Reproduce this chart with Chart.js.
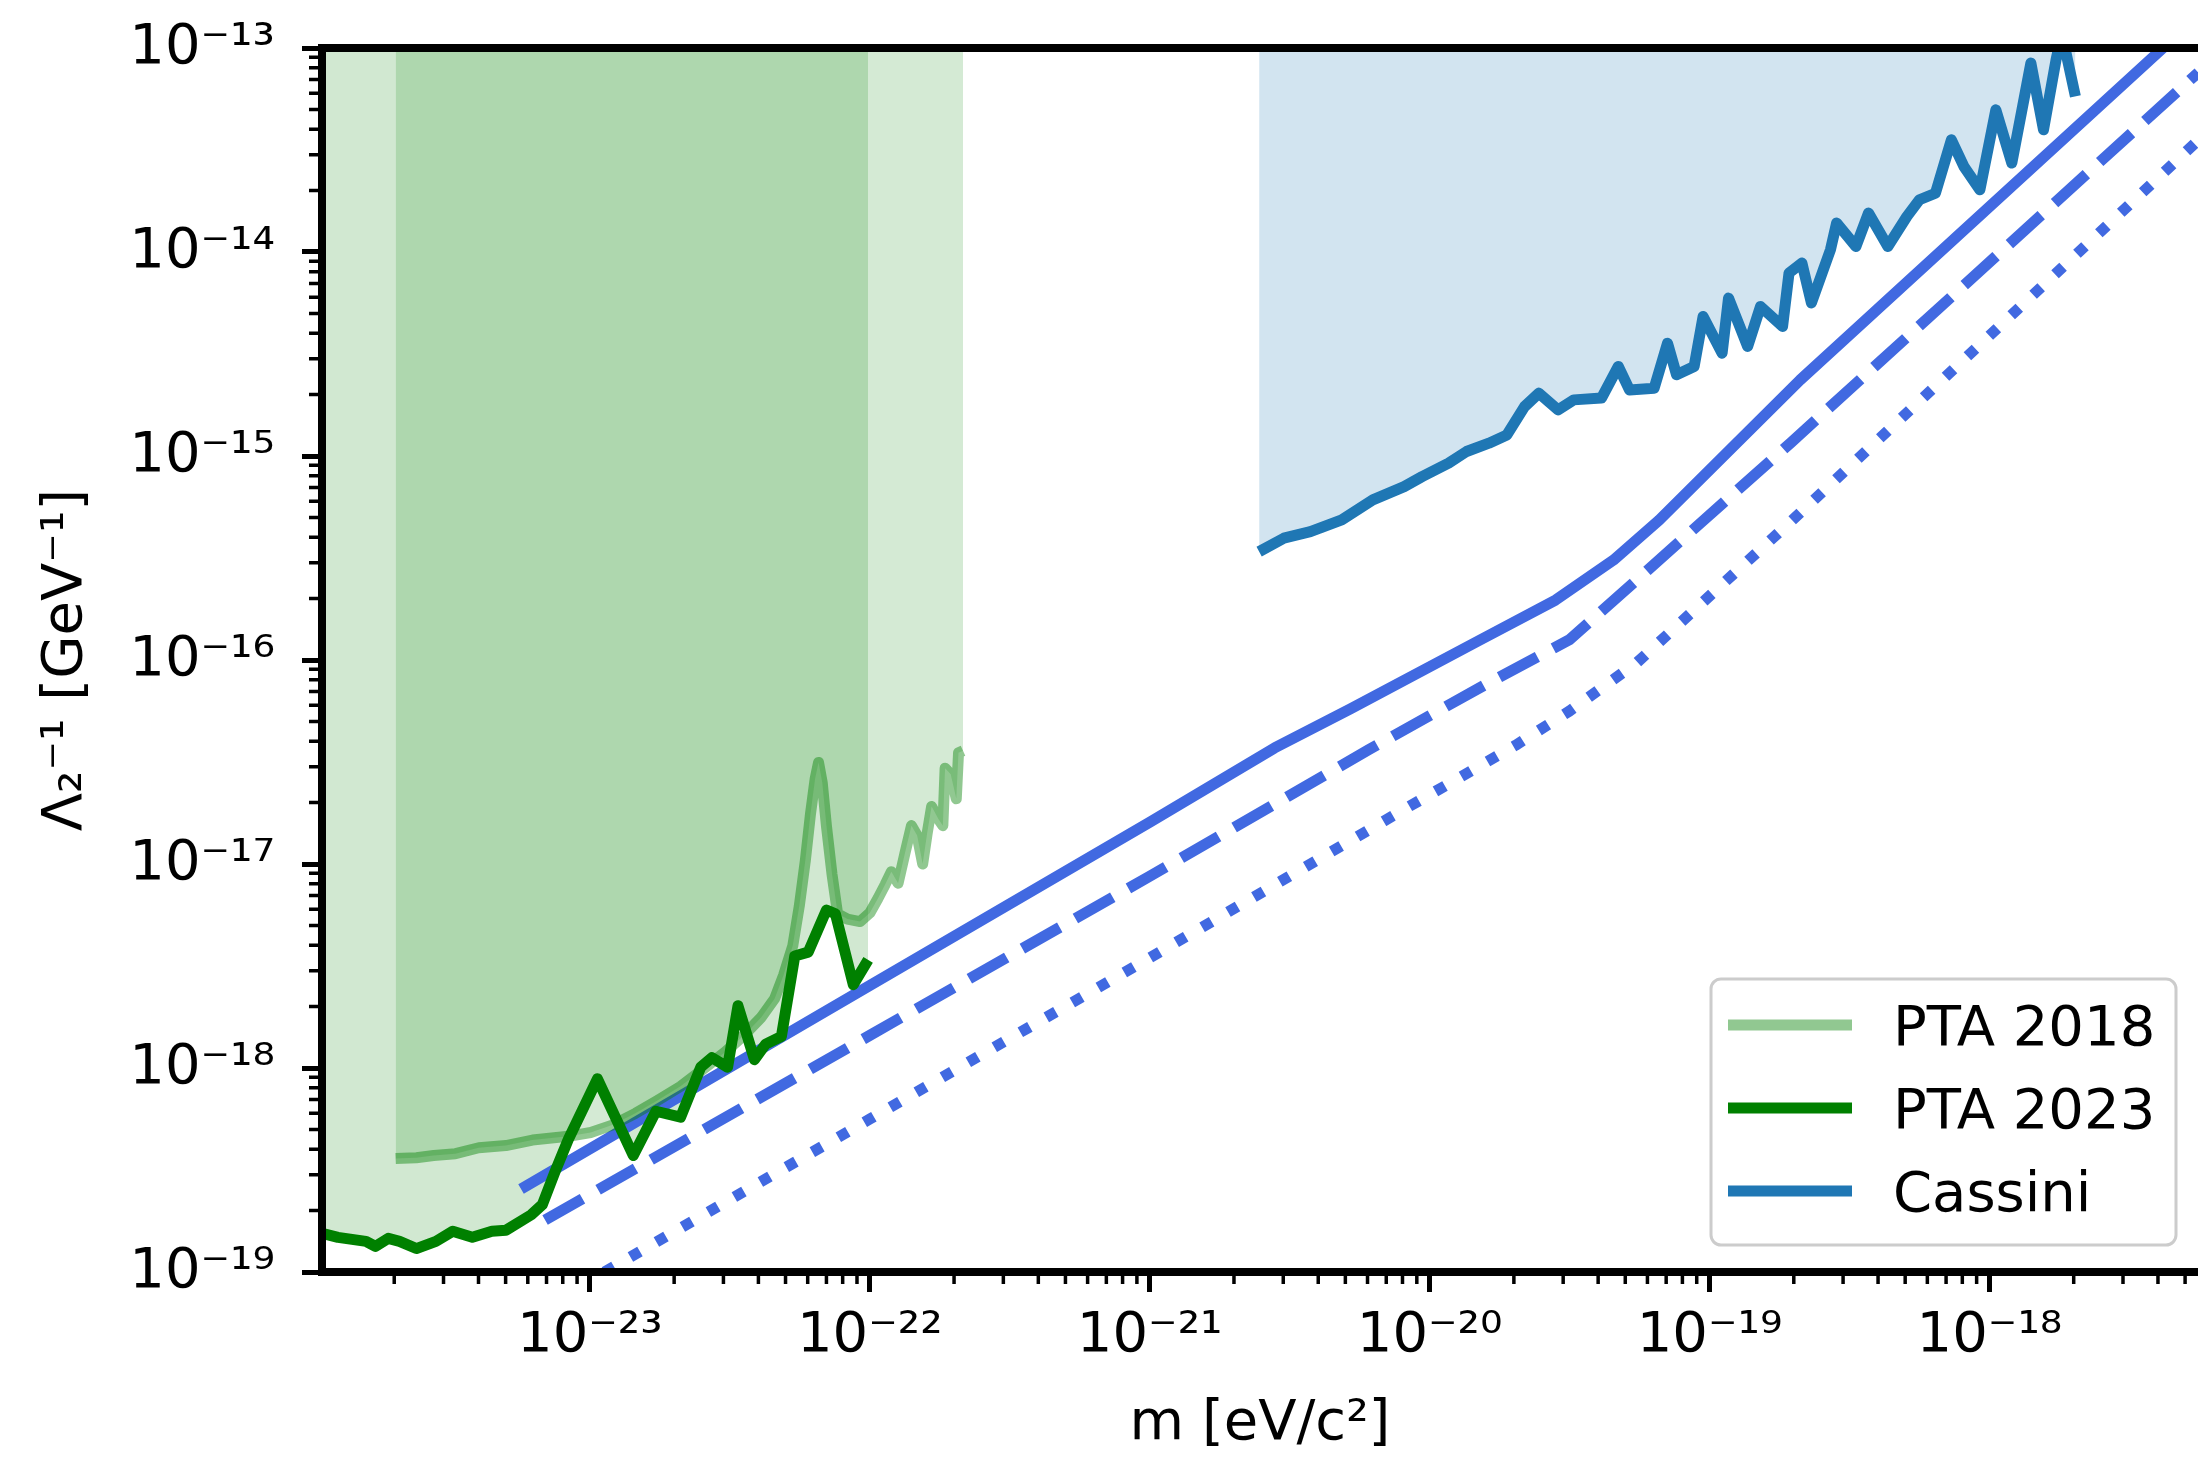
<!DOCTYPE html>
<html>
<head>
<meta charset="utf-8">
<script src="https://cdn.jsdelivr.net/npm/chart.js@4.4.1/dist/chart.umd.min.js"></script>
<style>
html,body{margin:0;padding:0;background:#ffffff;overflow:hidden;}
#wrap{width:2198px;height:1458px;position:relative;}
</style>
</head>
<body>
<div id="wrap"><canvas id="c" width="2198" height="1458"></canvas></div>
<script>
// ---------------- data ----------------
const xMin = 1.104e-24, xMax = 5.56e-18;
const yMin = 1e-19, yMax = 1e-13;

const xTickValues = [1e-23, 1e-22, 1e-21, 1e-20, 1e-19, 1e-18];
const xTickLabels = ['10⁻²³', '10⁻²²', '10⁻²¹', '10⁻²⁰', '10⁻¹⁹', '10⁻¹⁸'];
const yTickValues = [1e-19, 1e-18, 1e-17, 1e-16, 1e-15, 1e-14, 1e-13];
const yTickLabels = ['10⁻¹⁹', '10⁻¹⁸', '10⁻¹⁷', '10⁻¹⁶', '10⁻¹⁵', '10⁻¹⁴', '10⁻¹³'];

const legendLabels = ['PTA 2018', 'PTA 2023', 'Cassini'];

// PTA 2023
const pta2023M = [1.104e-24, 1.259e-24, 1.413e-24, 1.585e-24, 1.714e-24, 1.905e-24, 2.089e-24, 2.399e-24,
  2.818e-24, 3.236e-24, 3.802e-24, 4.467e-24, 5.012e-24, 6.166e-24, 6.761e-24, 7.499e-24, 8.375e-24,
  1.064e-23, 1.429e-23, 1.722e-23, 2.109e-23, 2.489e-23, 2.729e-23, 3.105e-23, 3.381e-23, 3.873e-23,
  4.246e-23, 4.831e-23, 5.395e-23, 6.026e-23, 6.998e-23, 7.534e-23, 8.730e-23, 9.863e-23];
const pta2023L = [1.549e-19, 1.479e-19, 1.445e-19, 1.413e-19, 1.334e-19, 1.462e-19, 1.413e-19, 1.303e-19,
  1.413e-19, 1.585e-19, 1.479e-19, 1.585e-19, 1.603e-19, 1.905e-19, 2.138e-19, 3.090e-19, 4.467e-19,
  8.851e-19, 3.724e-19, 6.138e-19, 5.741e-19, 1.009e-18, 1.125e-18, 1.009e-18, 2.018e-18, 1.099e-18,
  1.309e-18, 1.426e-18, 3.540e-18, 3.698e-18, 5.943e-18, 5.702e-18, 2.559e-18, 3.388e-18];

// PTA 2018
const pta2018M = [2.023e-24, 2.399e-24, 2.767e-24, 3.311e-24, 4.009e-24, 5.012e-24, 6.237e-24, 8.375e-24,
  1.007e-23, 1.202e-23, 1.455e-23, 1.738e-23, 2.109e-23, 2.512e-23, 3.048e-23, 3.548e-23, 4.093e-23,
  4.571e-23, 4.920e-23, 5.309e-23, 5.598e-23, 5.888e-23, 6.138e-23, 6.383e-23, 6.561e-23, 6.761e-23,
  6.998e-23, 7.328e-23, 7.674e-23, 8.318e-23, 9.226e-23, 1.000e-22, 1.069e-22, 1.135e-22, 1.194e-22,
  1.262e-22, 1.334e-22, 1.409e-22, 1.476e-22, 1.545e-22, 1.603e-22, 1.663e-22, 1.758e-22, 1.824e-22,
  1.858e-22, 1.945e-22, 2.037e-22, 2.075e-22, 2.153e-22];
const pta2018L = [3.597e-19, 3.631e-19, 3.724e-19, 3.802e-19, 4.064e-19, 4.169e-19, 4.436e-19, 4.624e-19,
  4.831e-19, 5.248e-19, 5.998e-19, 6.918e-19, 8.128e-19, 9.772e-19, 1.199e-18, 1.445e-18, 1.770e-18,
  2.188e-18, 2.851e-18, 3.981e-18, 6.209e-18, 1.047e-17, 1.754e-17, 2.630e-17, 3.148e-17, 2.512e-17,
  1.542e-17, 8.913e-18, 5.702e-18, 5.370e-18, 5.224e-18, 5.754e-18, 6.776e-18, 7.943e-18, 9.162e-18,
  8.054e-18, 1.122e-17, 1.542e-17, 1.380e-17, 1.000e-17, 1.413e-17, 1.914e-17, 1.660e-17, 1.542e-17,
  2.951e-17, 2.754e-17, 2.089e-17, 3.508e-17, 3.589e-17];

// Cassini
const cassiniM = [2.460e-21, 3.013e-21, 3.750e-21, 4.853e-21, 6.266e-21, 8.110e-21, 9.397e-21, 1.169e-20,
  1.355e-20, 1.629e-20, 1.888e-20, 2.183e-20, 2.455e-20, 2.877e-20, 3.273e-20, 4.111e-20, 4.721e-20,
  5.176e-20, 6.339e-20, 7.079e-20, 7.621e-20, 8.810e-20, 9.484e-20, 1.109e-19, 1.169e-19, 1.368e-19,
  1.521e-19, 1.824e-19, 1.923e-19, 2.138e-19, 2.312e-19, 2.704e-19, 2.844e-19, 3.334e-19, 3.698e-19,
  4.335e-19, 5.070e-19, 5.623e-19, 6.412e-19, 7.311e-19, 8.110e-19, 9.247e-19, 1.054e-18, 1.202e-18,
  1.406e-18, 1.560e-18, 1.730e-18, 1.799e-18, 1.875e-18, 2.028e-18];
const cassiniL = [3.396e-16, 3.954e-16, 4.256e-16, 4.864e-16, 6.095e-16, 7.079e-16, 7.925e-16, 9.226e-16,
  1.052e-15, 1.156e-15, 1.268e-15, 1.746e-15, 2.032e-15, 1.683e-15, 1.884e-15, 1.923e-15, 2.748e-15,
  2.109e-15, 2.148e-15, 3.573e-15, 2.500e-15, 2.748e-15, 4.831e-15, 3.192e-15, 5.943e-15, 3.443e-15,
  5.408e-15, 4.315e-15, 7.889e-15, 8.831e-15, 5.623e-15, 1.026e-14, 1.387e-14, 1.064e-14, 1.552e-14,
  1.064e-14, 1.493e-14, 1.803e-14, 1.941e-14, 3.548e-14, 2.624e-14, 2.018e-14, 4.977e-14, 2.729e-14,
  8.433e-14, 3.972e-14, 8.770e-14, 1.122e-13, 9.550e-14, 5.794e-14];

// projections (royal blue)
const solidM = [5.902e-24, 1.000e-22, 1.000e-21, 2.793e-21, 5.212e-21, 1.514e-20, 2.818e-20, 4.539e-20, 6.607e-20, 2.109e-19, 4.169e-18];
const solidL = [2.636e-19, 2.535e-18, 1.600e-17, 3.707e-17, 5.754e-17, 1.253e-16, 1.968e-16, 3.090e-16, 4.853e-16, 2.360e-15, 1.000e-13];
const dashedM = [6.918e-24, 1.000e-22, 1.000e-21, 6.053e-21, 1.585e-20, 3.162e-20, 5.012e-20, 1.950e-19, 5.572e-18];
const dashedL = [1.799e-19, 1.445e-18, 8.710e-18, 3.631e-17, 7.586e-17, 1.259e-16, 2.208e-16, 1.161e-15, 7.586e-14];
const dottedM = [1.127e-23, 1.000e-22, 1.000e-21, 6.855e-21, 2.028e-20, 3.162e-20, 5.521e-20, 1.941e-19, 5.572e-18];
const dottedL = [1.000e-19, 5.623e-19, 3.467e-18, 1.622e-17, 3.819e-17, 5.623e-17, 9.750e-17, 4.742e-16, 3.532e-14];

// ---------------- styling ----------------
const FONT = 'DejaVu Sans';
const C_GREEN = '#008000';
const C_GREEN_LIGHT = 'rgba(0,128,0,0.43)';
const C_TAB_BLUE = '#1f77b4';
const C_ROYAL = '#4169e1';
const legendColors = [C_GREEN_LIGHT, C_GREEN, C_TAB_BLUE];

const pts = (xs, ys) => xs.map((x, i) => ({x: x, y: ys[i]}));

function lineSet(label, xs, ys, color, extra) {
  return Object.assign({
    label: label,
    data: pts(xs, ys),
    borderColor: color,
    backgroundColor: 'rgba(0,0,0,0)',
    borderWidth: 11,
    pointRadius: 0,
    pointHoverRadius: 0,
    tension: 0,
    fill: false,
    clip: 0,
    borderJoinStyle: 'round',
    borderCapStyle: 'butt'
  }, extra || {});
}

const datasets = [
  lineSet('PTA 2023', pta2023M, pta2023L, C_GREEN, {fill: 'end', backgroundColor: 'rgba(0,128,0,0.18)'}),
  lineSet('PTA 2018', pta2018M, pta2018L, C_GREEN_LIGHT, {fill: 'end', backgroundColor: 'rgba(0,128,0,0.17)'}),
  lineSet('Cassini', cassiniM, cassiniL, C_TAB_BLUE, {fill: 'end', backgroundColor: 'rgba(31,119,180,0.2)'}),
  lineSet('projection', solidM, solidL, C_ROYAL, {borderCapStyle: 'square'}),
  lineSet('projection dashed', dashedM, dashedL, C_ROYAL, {borderDash: [43, 18]}),
  lineSet('projection dotted', dottedM, dottedL, C_ROYAL, {borderDash: [11, 19]})
];

// minor log ticks, spines and legend box
const decorPlugin = {
  id: 'decor',
  afterDraw(chart) {
    const ctx = chart.ctx;
    const a = chart.chartArea;
    const xs = chart.scales.x, ys = chart.scales.y;
    ctx.save();
    // minor ticks
    ctx.strokeStyle = '#000';
    ctx.lineWidth = 3.5;
    ctx.lineCap = 'butt';
    ctx.beginPath();
    for (let e = -25; e <= -12; e++) {
      for (let k = 2; k <= 9; k++) {
        const v = k * Math.pow(10, e);
        if (v > xs.min && v < xs.max) {
          const px = xs.getPixelForValue(v);
          if (px > a.left + 4 && px < a.right) { ctx.moveTo(px, a.bottom); ctx.lineTo(px, a.bottom + 12); }
        }
        if (v > ys.min && v < ys.max) {
          const py = ys.getPixelForValue(v);
          ctx.moveTo(a.left, py); ctx.lineTo(a.left - 13, py);
        }
      }
    }
    ctx.stroke();
    // spines
    ctx.lineWidth = 8;
    ctx.lineCap = 'square';
    ctx.beginPath();
    ctx.moveTo(a.right + 20, a.top);
    ctx.lineTo(a.left, a.top);
    ctx.lineTo(a.left, a.bottom);
    ctx.lineTo(a.right + 20, a.bottom);
    ctx.stroke();
    // legend
    const bx = 1711, by = 979, bw = 465, bh = 266, r = 10;
    ctx.beginPath();
    ctx.moveTo(bx + r, by);
    ctx.lineTo(bx + bw - r, by);
    ctx.arcTo(bx + bw, by, bx + bw, by + r, r);
    ctx.lineTo(bx + bw, by + bh - r);
    ctx.arcTo(bx + bw, by + bh, bx + bw - r, by + bh, r);
    ctx.lineTo(bx + r, by + bh);
    ctx.arcTo(bx, by + bh, bx, by + bh - r, r);
    ctx.lineTo(bx, by + r);
    ctx.arcTo(bx, by, bx + r, by, r);
    ctx.closePath();
    ctx.fillStyle = 'rgba(255,255,255,0.8)';
    ctx.fill();
    ctx.strokeStyle = '#cccccc';
    ctx.lineWidth = 3;
    ctx.stroke();
    ctx.font = '56px "' + FONT + '"';
    ctx.textBaseline = 'alphabetic';
    ctx.textAlign = 'left';
    for (let i = 0; i < legendLabels.length; i++) {
      const ry = 1025 + i * 83;
      ctx.strokeStyle = legendColors[i];
      ctx.lineWidth = 11;
      ctx.lineCap = 'butt';
      ctx.beginPath();
      ctx.moveTo(1728, ry);
      ctx.lineTo(1852, ry);
      ctx.stroke();
      ctx.fillStyle = '#000';
      ctx.fillText(legendLabels[i], 1893, ry + 20);
    }
    ctx.restore();
  }
};

Chart.defaults.font.family = FONT;
Chart.defaults.color = '#000';

new Chart(document.getElementById('c'), {
  type: 'line',
  data: {datasets: datasets},
  plugins: [decorPlugin],
  options: {
    responsive: false,
    animation: false,
    devicePixelRatio: 1,
    layout: {padding: {top: 48, left: 0, right: 0, bottom: 0}},
    plugins: {
      legend: {display: false},
      tooltip: {enabled: false},
      filler: {drawTime: 'beforeDatasetsDraw'}
    },
    scales: {
      x: {
        type: 'logarithmic',
        min: xMin,
        max: xMax,
        afterBuildTicks: (scale) => { scale.ticks = xTickValues.map(v => ({value: v, major: true})); },
        afterFit: (scale) => { scale.height = 186; scale.paddingLeft = 0; scale.paddingRight = 0; scale.paddingTop = 0; scale.paddingBottom = 0; },
        ticks: {
          autoSkip: false,
          maxRotation: 0,
          minRotation: 0,
          padding: 11,
          font: {size: 56, family: FONT},
          color: '#000',
          callback: (v, i) => xTickLabels[i]
        },
        grid: {display: true, drawOnChartArea: false, drawTicks: true, tickLength: 20, tickWidth: 5, tickColor: '#000'},
        border: {display: false},
        title: {display: true, text: 'm [eV/c²]', font: {size: 56, family: FONT}, color: '#000', padding: {top: 0, bottom: 0}}
      },
      y: {
        type: 'logarithmic',
        min: yMin,
        max: yMax,
        afterBuildTicks: (scale) => { scale.ticks = yTickValues.map(v => ({value: v, major: true})); },
        afterFit: (scale) => { scale.width = 322; scale.paddingTop = 0; scale.paddingBottom = 0; scale.paddingLeft = 0; scale.paddingRight = 0; },
        ticks: {
          autoSkip: false,
          padding: 27,
          font: {size: 56, family: FONT},
          color: '#000',
          callback: (v, i) => yTickLabels[i]
        },
        grid: {display: true, drawOnChartArea: false, drawTicks: true, tickLength: 20, tickWidth: 5, tickColor: '#000'},
        border: {display: false},
        title: {display: true, text: 'Λ₂⁻¹ [GeV⁻¹]', font: {size: 56, family: FONT}, color: '#000', padding: {top: 33, bottom: 0}}
      }
    }
  }
});
</script>
</body>
</html>
